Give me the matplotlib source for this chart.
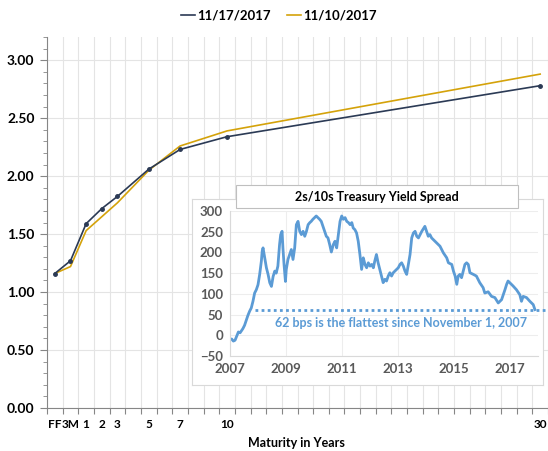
import numpy as np
import matplotlib.pyplot as plt
from matplotlib.patches import Rectangle
from matplotlib.lines import Line2D

plt.rcParams['font.family'] = ['Lato', 'DejaVu Sans']

# yield curve
maturity_pos    = [-1, 0, 1, 2, 3, 5, 7, 10, 30]
maturity_labels = ['FF', '3M', '1', '2', '3', '5', '7', '10', '30']
yield_1117 = [1.16, 1.27, 1.59, 1.72, 1.825, 2.06, 2.23, 2.34, 2.78]
yield_1110 = [1.16, 1.22, 1.53, 1.65, 1.77, 2.05, 2.26, 2.39, 2.88]

# 2s/10s spread (bps)
spread_year = [2007.00, 2007.06, 2007.12, 2007.18, 2007.24, 2007.30, 2007.36, 2007.40,
               2007.46, 2007.52, 2007.58, 2007.64, 2007.70, 2007.76, 2007.82, 2007.88,
               2007.94, 2008.00, 2008.06, 2008.12, 2008.15, 2008.18, 2008.24, 2008.30,
               2008.36, 2008.42, 2008.48, 2008.54, 2008.60, 2008.65, 2008.71, 2008.77,
               2008.81, 2008.86, 2008.89, 2008.93, 2008.98, 2009.01, 2009.07, 2009.13,
               2009.19, 2009.25, 2009.31, 2009.37, 2009.43, 2009.49, 2009.55, 2009.61,
               2009.67, 2009.73, 2009.79, 2009.85, 2009.90, 2009.96, 2010.02, 2010.08,
               2010.14, 2010.20, 2010.26, 2010.32, 2010.38, 2010.44, 2010.50, 2010.56,
               2010.62, 2010.69, 2010.75, 2010.81, 2010.87, 2010.93, 2010.99, 2011.05,
               2011.11, 2011.17, 2011.23, 2011.29, 2011.35, 2011.40, 2011.46, 2011.52,
               2011.58, 2011.64, 2011.70, 2011.76, 2011.82, 2011.88, 2011.94, 2012.00,
               2012.06, 2012.12, 2012.17, 2012.23, 2012.29, 2012.35, 2012.41, 2012.47,
               2012.53, 2012.59, 2012.65, 2012.71, 2012.77, 2012.83, 2012.89, 2012.95,
               2013.01, 2013.07, 2013.13, 2013.19, 2013.25, 2013.31, 2013.37, 2013.43,
               2013.49, 2013.55, 2013.61, 2013.67, 2013.73, 2013.79, 2013.85, 2013.96,
               2014.02, 2014.08, 2014.14, 2014.20, 2014.26, 2014.38, 2014.50, 2014.62,
               2014.74, 2014.80, 2014.92, 2014.98, 2015.04, 2015.10, 2015.15, 2015.21,
               2015.27, 2015.33, 2015.39, 2015.45, 2015.51, 2015.57, 2015.69, 2015.80,
               2015.92, 2016.04, 2016.10, 2016.22, 2016.34, 2016.46, 2016.58, 2016.70,
               2016.76, 2016.82, 2016.88, 2016.93, 2016.99, 2017.11, 2017.23, 2017.35,
               2017.41, 2017.47, 2017.59, 2017.71, 2017.77, 2017.83, 2017.89]
spread_bps = [-10, -9, -14, -12, -2, 8, 6, 10,
              16, 24, 36, 48, 58, 66, 82, 102,
              110, 122, 147, 179, 203, 211, 187, 163,
              147, 127, 118, 142, 155, 150, 167, 219,
              243, 251, 211, 171, 130, 159, 183, 195,
              207, 183, 211, 267, 275, 251, 243, 251,
              239, 251, 267, 272, 275, 280, 284, 288,
              284, 280, 275, 263, 251, 239, 235, 219,
              201, 219, 227, 211, 243, 275, 288, 280,
              284, 275, 272, 267, 272, 259, 255, 247,
              227, 195, 159, 187, 171, 163, 175, 167,
              171, 163, 179, 195, 175, 159, 143, 127,
              135, 131, 143, 151, 143, 151, 155, 159,
              163, 171, 175, 167, 155, 147, 171, 195,
              235, 247, 251, 239, 235, 243, 251, 263,
              251, 239, 243, 235, 231, 223, 215, 199,
              187, 175, 171, 155, 143, 123, 143, 147,
              139, 155, 171, 175, 171, 151, 147, 143,
              127, 115, 102, 105, 94, 91, 78, 86,
              98, 110, 123, 131, 127, 119, 110, 98,
              82, 94, 91, 82, 78, 74, 62]
flat_level = 62
flat_since = 2007.88
spread_ticks = [2007, 2009, 2011, 2013, 2015, 2017]

navy = '#2B3A55'
gold = '#D4A20A'
blue = '#5B9BD5'
grid_c = '#E4E4E4'
axis_c = '#868686'

fig = plt.figure(figsize=(5.48, 4.51), dpi=100)
W, H = 548, 451

ax = fig.add_axes([47/W, 1-408/H, 1-47/W, (408-37)/H])
ax.plot(maturity_pos, yield_1117, color=navy, lw=1.2, marker='o', ms=2.5, zorder=3)
ax.plot(maturity_pos, yield_1110, color=gold, lw=1.2, zorder=2)
ax.set_xlim(-1.5, 30.5)
ax.set_ylim(0, 3.2)
ax.set_xticks(np.arange(-1.5, 30.6, 1.0))
ax.set_xticklabels([])
ax.set_xticks(maturity_pos, maturity_labels, minor=True)
ax.tick_params(axis='x', which='minor', length=0, pad=8, labelsize=8.5)
ax.tick_params(axis='x', which='major', length=4, color=axis_c)
ax.set_yticks(np.arange(0, 3.01, 0.5))
ax.set_yticklabels([f'{v:.2f}' for v in np.arange(0, 3.01, 0.5)])
ax.set_yticks(np.arange(0, 3.21, 0.1), minor=True)
ax.tick_params(axis='y', which='major', length=5, color=axis_c, labelsize=10, pad=4)
ax.tick_params(axis='y', which='minor', length=3, color=axis_c)
for lab in ax.get_xticklabels(minor=True) + ax.get_yticklabels():
    lab.set_fontweight('bold')
ax.grid(axis='x', which='major', color=grid_c, lw=0.8)
ax.grid(axis='y', which='major', color=grid_c, lw=0.8)
for s in ['top', 'right']:
    ax.spines[s].set_visible(False)
for s in ['left', 'bottom']:
    ax.spines[s].set_color(axis_c)
ax.set_xlabel('Maturity in Years', fontsize=9, fontweight='bold')
ax.xaxis.set_label_coords(0.497, -0.077)

handles = [Line2D([], [], color=navy, lw=1.2), Line2D([], [], color=gold, lw=1.2)]
fig.legend(handles, ['11/17/2017', '11/10/2017'], loc='center',
           bbox_to_anchor=(279/W, 1-16/H), ncol=2, frameon=False,
           handlelength=1.1, handletextpad=0.15, columnspacing=1.2,
           prop={'weight': 'bold', 'size': 9.5})

# inset background box
bg = fig.add_axes([192/W, 1-385/H, (543-192)/W, (385-199)/H])
bg.set_xticks([])
bg.set_yticks([])
for s in bg.spines.values():
    s.set_color('#D9D9D9')
bg.set_zorder(2)

ins = fig.add_axes([230/W, 1-356/H, 308/W, (356-211)/H])
ins.set_zorder(3)
ins.patch.set_alpha(0)
ins.plot(spread_year, spread_bps, color=blue, lw=2)
ins.plot([flat_since, 2018.35], [flat_level, flat_level], color=blue, lw=2,
         ls=(0, (1, 1.2)), clip_on=False)
ins.text(2013.1, 30, '62 bps is the flattest since November 1, 2007', color=blue,
         fontsize=9, fontweight='bold', ha='center', va='center')
ins.set_xlim(2007, 2018)
ins.set_ylim(-50, 300)
ins.set_xticks(spread_ticks)
ins.set_yticks(np.arange(-50, 301, 50))
ins.grid(color='#EDEDED', lw=0.8)
ins.set_axisbelow(True)
ins.tick_params(length=0, labelsize=9.5, labelcolor='#595959', pad=5)
for lab in ins.get_xticklabels() + ins.get_yticklabels():
    lab.set_fontweight('bold')
for s in ['top', 'right']:
    ins.spines[s].set_visible(False)
for s in ['left', 'bottom']:
    ins.spines[s].set_color('#D9D9D9')

# title box
fig.patches.append(Rectangle((236/W, 1-208/H), (518-236)/W, (208-185)/H,
                             transform=fig.transFigure, facecolor='white',
                             edgecolor='#BFBFBF', lw=0.8, zorder=4))
fig.text(377/W, 1-197/H, '2s/10s Treasury Yield Spread', ha='center', va='center',
         fontsize=9, fontweight='bold', color='black', zorder=5)

fig.savefig('out.png', dpi=100)
